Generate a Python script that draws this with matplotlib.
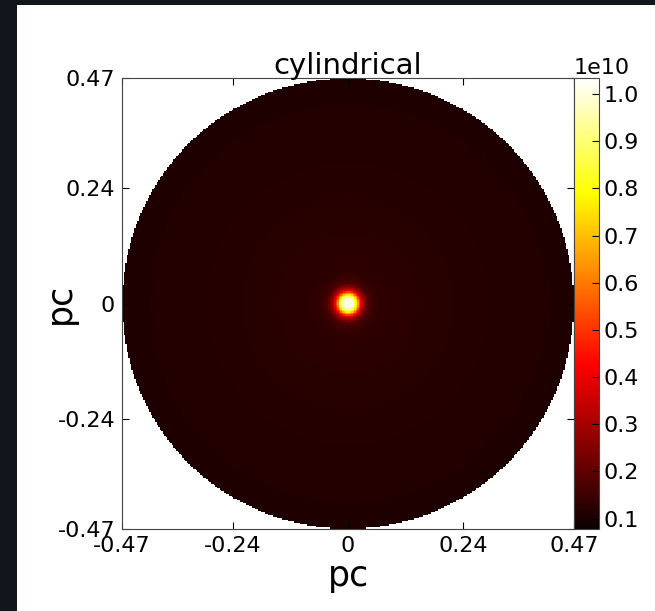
import numpy as np
import matplotlib
matplotlib.use("Agg")
import matplotlib.pyplot as plt
from matplotlib.patches import Rectangle

# radial density profile (r in pc, value in 1e10)
radius_pc = [0.0, 0.008, 0.0125, 0.018, 0.022, 0.026, 0.032, 0.042, 0.06, 0.10, 0.20, 0.30, 0.47]
density_1e10 = [1.03, 1.0, 0.93, 0.75, 0.58, 0.42, 0.28, 0.17, 0.135, 0.125, 0.12, 0.115, 0.11]
r_max = 0.47
vmin, vmax = 0.078e10, 1.034e10

tick_vals = [-0.47, -0.24, 0, 0.24, 0.47]
tick_labels = ["-0.47", "-0.24", "0", "0.24", "0.47"]
cbar_ticks = [0.1e10, 0.2e10, 0.3e10, 0.4e10, 0.5e10, 0.6e10, 0.7e10, 0.8e10, 0.9e10, 1.0e10]

plt.rcParams["axes.unicode_minus"] = False

# build the map on a fine grid, masked outside the cylinder radius
n = 300
edges = np.linspace(-r_max, r_max, n + 1)
centers = 0.5 * (edges[:-1] + edges[1:])
X, Y = np.meshgrid(centers, centers)
R = np.hypot(X, Y)
img = np.interp(R, radius_pc, density_1e10) * 1e10
img = np.ma.masked_where(R > r_max, img)

fig = plt.figure(figsize=(6.55, 6.11), dpi=100)
fig.patch.set_facecolor("#11161c")
fig.add_artist(Rectangle((17 / 655, 0), 1, 1 - 5 / 611, transform=fig.transFigure,
                         facecolor="white", edgecolor="none", zorder=-1))

ax = fig.add_axes([0.1863, 0.1342, 0.690, 0.738])
cax = fig.add_axes([0.8763, 0.1342, 0.0382, 0.738])

cmap = plt.get_cmap("hot").copy()
cmap.set_bad("white")
im = ax.imshow(img, origin="lower", extent=[-r_max, r_max, -r_max, r_max],
               cmap=cmap, vmin=vmin, vmax=vmax, interpolation="nearest", aspect="auto")

ax.set_xlim(-r_max, r_max)
ax.set_ylim(-r_max, r_max)
ax.set_xticks(tick_vals)
ax.set_xticklabels(tick_labels)
ax.set_yticks(tick_vals)
ax.set_yticklabels(tick_labels)
ax.tick_params(direction="in", top=True, right=True, labelsize=16, length=5, pad=5)
ax.set_title("cylindrical", fontsize=21, pad=3)
ax.set_xlabel("pc", fontsize=25, labelpad=2)
ax.set_ylabel("pc", fontsize=25)
ax.yaxis.set_label_coords(-0.10, 0.5)
for s in ax.spines.values():
    s.set_color("#444444")

cb = fig.colorbar(im, cax=cax, ticks=cbar_ticks)
cb.ax.tick_params(direction="in", labelsize=16, length=5, pad=3)
off = cb.ax.yaxis.get_offset_text()
off.set_fontsize(16)
off.set_x(0.0)
off.set_horizontalalignment("left")
cb.outline.set_edgecolor("#444444")

fig.savefig("out.png", dpi=100, facecolor=fig.get_facecolor())
